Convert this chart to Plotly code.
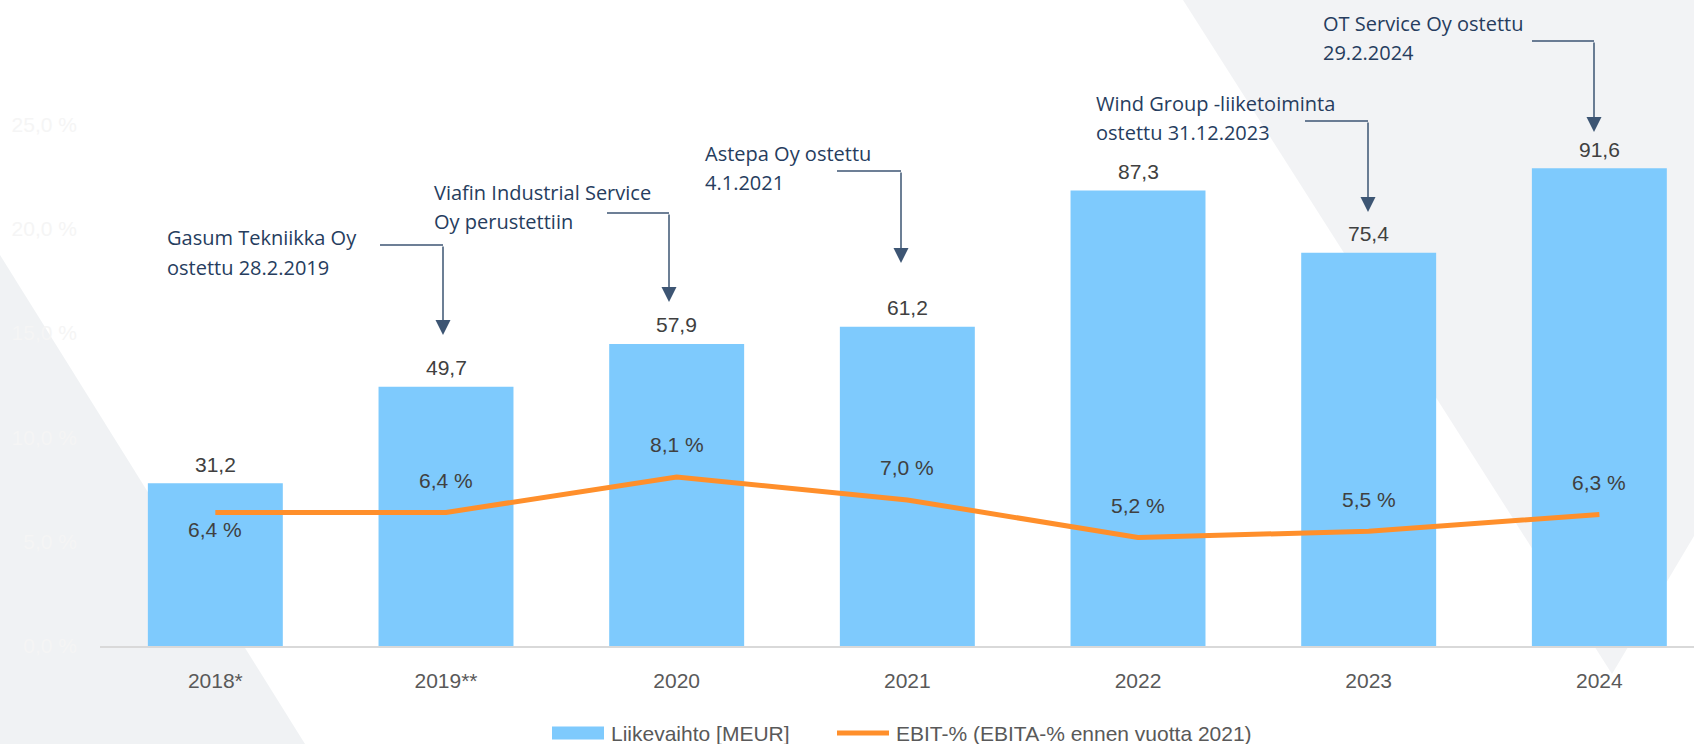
import plotly.graph_objects as go

# ---- data ----
categories = ["2018*", "2019**", "2020", "2021", "2022", "2023", "2024"]
revenue = [31.2, 49.7, 57.9, 61.2, 87.3, 75.4, 91.6]          # Liikevaihto [MEUR]
ebit_pct = [6.4, 6.4, 8.1, 7.0, 5.2, 5.5, 6.3]                # EBIT-%
pct_ticks = [0, 5, 10, 15, 20, 25]
pct_tick_labels = ["0,0 %", "5,0 %", "10,0 %", "15,0 %", "20,0 %", "25,0 %"]
events = [
    ["Gasum Tekniikka Oy", "ostettu 28.2.2019"],
    ["Viafin Industrial Service", "Oy perustettiin"],
    ["Astepa Oy ostettu", "4.1.2021"],
    ["Wind Group -liiketoiminta", "ostettu 31.12.2023"],
    ["OT Service Oy ostettu", "29.2.2024"],
]
name_rev = "Liikevaihto [MEUR]"
name_ebit = "EBIT-% (EBITA-% ennen vuotta 2021)"

# ---- layout geometry ----
W, H = 1694, 744
ML, MR, MT, MB = 100, 0, 20, 98
PW, PH = W - ML - MR, H - MT - MB


def px_x(px):
    return (px - ML) / PW


def px_y(py):
    return (H - MB - py) / PH


BAR_COLOR = "#7ECAFD"
LINE_COLOR = "#FF8F2B"
NAVY = "#263d5e"
ARROW = "#3d5573"
FONT = "Liberation Sans, Arial, sans-serif"

fig = go.Figure()
fig.add_trace(go.Bar(x=categories, y=revenue, name=name_rev,
                     marker=dict(color=BAR_COLOR, line=dict(width=0)),
                     yaxis="y", hoverinfo="skip", showlegend=False))
fig.add_trace(go.Scatter(x=categories, y=ebit_pct, name=name_ebit, mode="lines",
                         line=dict(color=LINE_COLOR, width=5),
                         yaxis="y2", hoverinfo="skip", showlegend=False))

annotations = []
# bar value labels (x given as category index)
for i, v in enumerate(revenue):
    annotations.append(dict(x=i, y=v, xref="x", yref="y", yshift=19,
                            text=f"{v:.1f}".replace(".", ","), showarrow=False,
                            yanchor="middle",
                            font=dict(family=FONT, size=21, color="#404040")))
# EBIT labels
for i, v in enumerate(ebit_pct):
    shift = -17 if i == 0 else 32
    annotations.append(dict(x=i, y=v, xref="x", yref="y2", yshift=shift,
                            text=f"{v:.1f}".replace(".", ",") + " %", showarrow=False,
                            yanchor="middle",
                            font=dict(family=FONT, size=21, color="#404040")))

# event callouts: (text left x, line1 y, line2 y, connector start x, corner y, tip x, tip y) in pixels
callout_geom = [
    (165, 237, 267, 380, 245, 443, 335),
    (432, 192, 221, 607, 213, 669, 302),
    (703, 153, 182, 837, 171, 901, 263),
    (1094, 103, 132, 1305, 121, 1368, 212),
    (1321, 23, 52, 1532, 41, 1594, 132),
]
shapes = []
for lines, (tx, y1, y2, cx0, cy, tipx, tipy) in zip(events, callout_geom):
    for txt, yy in zip(lines, (y1, y2)):
        annotations.append(dict(x=px_x(tx), y=px_y(yy), xref="paper", yref="paper",
                                text=txt, showarrow=False, xanchor="left", yanchor="middle",
                                font=dict(family="Open Sans, Noto Sans, sans-serif", size=20, color=NAVY)))
    shapes.append(dict(type="line", xref="paper", yref="paper",
                       x0=px_x(cx0), x1=px_x(tipx), y0=px_y(cy), y1=px_y(cy),
                       line=dict(color=ARROW, width=1.5)))
    annotations.append(dict(x=px_x(tipx), y=px_y(tipy), xref="paper", yref="paper",
                            ax=0, ay=-(tipy - cy), text="", showarrow=True,
                            arrowhead=2, arrowsize=2, arrowwidth=1.5, arrowcolor=ARROW,
                            standoff=0))

# legend (drawn as swatches + labels)
LEG_Y = 733
shapes.append(dict(type="rect", xref="paper", yref="paper",
                   x0=px_x(552), x1=px_x(604), y0=px_y(LEG_Y - 6.5), y1=px_y(LEG_Y + 6.5),
                   fillcolor=BAR_COLOR, line=dict(width=0)))
shapes.append(dict(type="line", xref="paper", yref="paper",
                   x0=px_x(837), x1=px_x(889), y0=px_y(LEG_Y), y1=px_y(LEG_Y),
                   line=dict(color=LINE_COLOR, width=5)))
for txt, lx in ((name_rev, 609), (name_ebit, 894)):
    annotations.append(dict(x=px_x(lx), y=px_y(LEG_Y), xref="paper", yref="paper",
                            text=txt, showarrow=False, xanchor="left", yanchor="middle",
                            font=dict(family=FONT, size=21, color="#595959")))


# background decorative polygons
def poly(points):
    return "M " + " L ".join(f"{px_x(x)},{px_y(y)}" for x, y in points) + " Z"


shapes.insert(0, dict(type="path", xref="paper", yref="paper", layer="below",
                      path=poly([(0, 255), (0, 744), (305, 744)]),
                      fillcolor="#f0f2f4", line=dict(width=0)))
shapes.insert(0, dict(type="path", xref="paper", yref="paper", layer="below",
                      path=poly([(1183, 0), (1694, 0), (1694, 536), (1612, 674)]),
                      fillcolor="#f2f3f5", line=dict(width=0)))

fig.update_layout(
    width=W, height=H,
    margin=dict(l=ML, r=MR, t=MT, b=MB, pad=0, autoexpand=False),
    paper_bgcolor="white", plot_bgcolor="rgba(0,0,0,0)",
    bargap=0.415,
    showlegend=False,
    xaxis=dict(type="category", range=[-0.5, PW / 230.67 - 0.5], showgrid=False,
               showline=True, linecolor="#d9d9d9", linewidth=2, ticks="",
               ticklabelstandoff=15, zeroline=False, automargin=False,
               tickfont=dict(family=FONT, size=21, color="#595959")),
    yaxis=dict(range=[0, 120], showgrid=False, zeroline=False, showticklabels=False,
               showline=False, automargin=False),
    yaxis2=dict(range=[0, 30], overlaying="y", side="left", showgrid=False, zeroline=False,
                tickvals=pct_ticks, ticktext=pct_tick_labels, ticks="",
                ticklabelstandoff=22, automargin=False,
                tickfont=dict(family=FONT, size=21, color="#f5f5f5")),
    annotations=annotations,
    shapes=shapes,
)

fig.write_html("out.html")
